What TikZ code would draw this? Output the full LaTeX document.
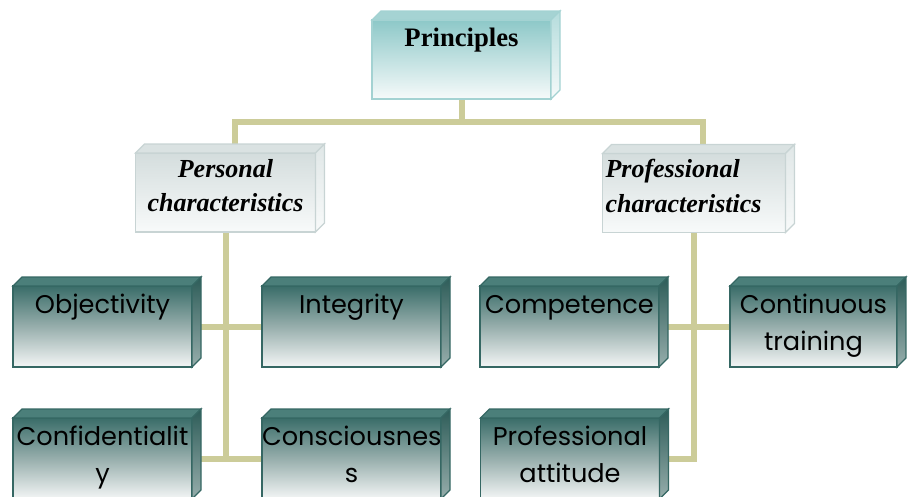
\documentclass[tikz,border=0pt]{standalone}
\usepackage{fontspec}
\setmainfont{Liberation Serif}
\newfontfamily\leaffont{Poppins}
\usetikzlibrary{positioning,calc}
\definecolor{PRLink}{HTML}{CCCC99}
\definecolor{PRHeadLine}{HTML}{A3D2D2}
\definecolor{PRHeadTop}{HTML}{8DC8C8}
\definecolor{PRHeadBot}{HTML}{F6FAFA}
\definecolor{PRHeadCap}{HTML}{A5D3D3}
\definecolor{PRHeadSide}{HTML}{B4DCDC}
\definecolor{PRGrpLine}{HTML}{C8D4D4}
\definecolor{PRGrpTop}{HTML}{D4DDDD}
\definecolor{PRGrpBot}{HTML}{F8FAFA}
\definecolor{PRGrpCap}{HTML}{DAE2E2}
\definecolor{PRGrpSide}{HTML}{E0E7E7}
\definecolor{PRLeafLine}{HTML}{356763}
\definecolor{PRLeafTop}{HTML}{3A6D69}
\definecolor{PRLeafMid}{HTML}{97AEAC}
\definecolor{PRLeafBot}{HTML}{F4F6F6}
\definecolor{PRLeafCap}{HTML}{4B7F7A}
\definecolor{PRLeafSide}{HTML}{2D5C58}
\pgfdeclarelayer{bg}
\pgfsetlayers{bg,main}
\tikzset{
  link/.style={PRLink,line width=4.5pt},
  front/.style={draw,line width=1pt,shading=axis,inner xsep=0pt,inner ysep=0pt,
                outer sep=0pt,align=center,text=black},
  head/.style={front,draw=PRHeadLine,top color=PRHeadTop,bottom color=PRHeadBot,
               text width=134.25pt,text height=19.5pt,text depth=39.75pt,
               font=\fontsize{20}{26}\selectfont\bfseries},
  branch/.style={front,draw=PRGrpLine,top color=PRGrpTop,bottom color=PRGrpBot,
                 text width=135pt,text height=18pt,text depth=41.25pt,
                 font=\fontsize{19.5}{26}\selectfont\bfseries\itshape},
  leaf/.style={front,draw=PRLeafLine,top color=PRLeafTop,bottom color=PRLeafBot,
               middle color=PRLeafMid,text width=134.25pt,text height=20.25pt,
               text depth=40.5pt,font=\leaffont\fontsize{19.2}{27.75}\selectfont},
  headtop/.style={fill=PRHeadCap,draw=PRHeadLine,line width=1pt},
  headside/.style={top color=PRHeadSide,bottom color=PRHeadBot,draw=PRHeadLine,line width=1pt},
  branchtop/.style={fill=PRGrpCap,draw=PRGrpLine,line width=1pt},
  branchside/.style={top color=PRGrpSide,bottom color=PRGrpBot,draw=PRGrpLine,line width=1pt},
  leaftop/.style={fill=PRLeafCap,draw=PRLeafLine,line width=1pt},
  leafside/.style={top color=PRLeafSide,bottom color=PRLeafMid,draw=PRLeafLine,line width=1pt},
}
% top and right faces of a box node
\newcommand\facets[2]{%
  \path[#2top] (#1.north west) -- ++(9,-9) -- ([shift={(9,-9)}]#1.north east)
    -- (#1.north east) -- cycle;
  \path[#2side] (#1.north east) -- ++(9,-9) -- ([shift={(9,-9)}]#1.south east)
    -- (#1.south east) -- cycle;}

\begin{document}
\begin{tikzpicture}[x=0.75pt,y=-0.75pt]
  \path[use as bounding box] (0,0) rectangle (909,496);
  \clip (0,0) rectangle (909,496);

  \node[head] (pri) at (461.5,59.5) {Principles};
  \node[branch] (per) at (225.5,192.5) {Personal\\characteristics};
  \node[branch,align=left,text width=132.75pt,inner xsep=2.25pt] (pro) at (694,193)
    {Professional\\characteristics};

  \node[leaf] (obj) at (102.5,326.5) {Objectivity};
  \node[leaf] (int) at (351.5,326.5) {Integrity};
  \node[leaf] (cmp) at (569.5,326.5) {Competence};
  \node[leaf,text width=125.25pt] (cnt) at (813.5,326.5) {Continuous\\training};
  \node[leaf] (cfd) at (102.5,458.5) {Confidentialit\\y};
  \node[leaf] (csc) at (351.5,458.5) {Consciousnes\\s};
  \node[leaf] (att) at (570,458.5) {Professional\\attitude};

  \facets{pri}{head}
  \foreach \n in {per,pro}{\facets{\n}{branch}}
  \foreach \n in {obj,int,cmp,cnt,cfd,csc,att}{\facets{\n}{leaf}}

  \begin{pgfonlayer}{bg}
    \draw[link] (pri.south) -- ++(0,23) coordinate (bus);
    \draw[link] ([shift={(9,-9)}]per.north) |- (bus) -| ([shift={(9,-9)}]pro.north);
    \draw[link] (per.south) -- (per.south |- cfd.center);
    \draw[link] (obj) -- (int);
    \draw[link] (cfd) -- (csc);
    \draw[link] (pro.south) |- (att);
    \draw[link] (cmp) -- (cnt);
  \end{pgfonlayer}
\end{tikzpicture}
\end{document}
